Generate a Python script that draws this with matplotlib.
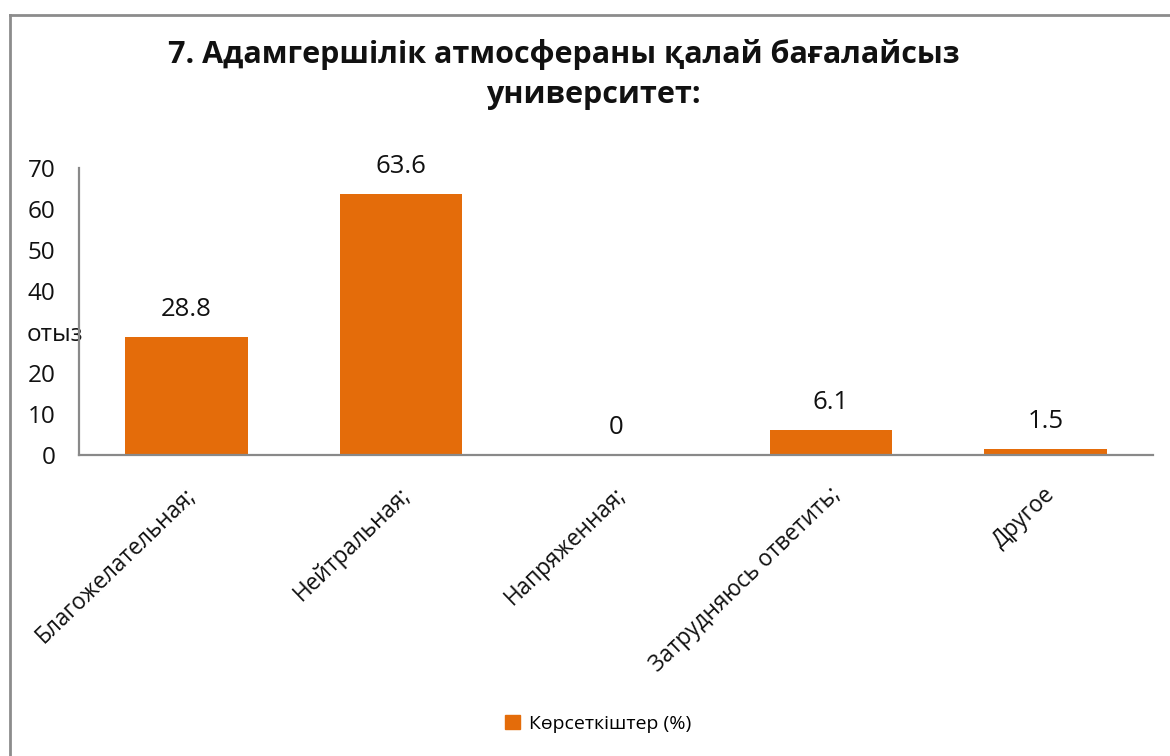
import matplotlib
matplotlib.use("Agg")
import matplotlib.pyplot as plt
from matplotlib.lines import Line2D
from matplotlib.patches import Patch
from matplotlib.transforms import ScaledTranslation

plt.rcParams['font.family'] = ['Open Sans', 'DejaVu Sans']

categories = ['Благожелательная;', 'Нейтральная;', 'Напряженная;', 'Затрудняюсь ответить;', 'Другое']
values = [28.8, 63.6, 0, 6.1, 1.5]
value_labels = ['28.8', '63.6', '0', '6.1', '1.5']
yticks = [0, 10, 20, 30, 40, 50, 60, 70]
ytick_labels = ['0', '10', '20', 'отыз', '40', '50', '60', '70']
title_line1 = '7. Адамгершілік атмосфераны қалай бағалайсыз'
title_line2 = 'университет:'
series_name = 'Көрсеткіштер (%)'

bar_color = '#E46C0A'
axis_color = '#898989'
text_color = '#111111'

W, H = 1170, 756
fig = plt.figure(figsize=(W / 100, H / 100), dpi=100)
ax = fig.add_axes([79 / W, 1 - 455 / H, (1153 - 79) / W, (455 - 168) / H])

x = list(range(len(categories)))
ax.bar(x, values, width=0.57, color=bar_color, zorder=2)
ax.set_xlim(-0.5, len(categories) - 0.5)
ax.set_ylim(0, 70)

for xi, v, lab in zip(x, values, value_labels):
    ax.annotate(lab, (xi, v), xytext=(0, 20), textcoords='offset points',
                ha='center', va='center', fontsize=18.5, color=text_color)

for s in ['top', 'right']:
    ax.spines[s].set_visible(False)
for s in ['left', 'bottom']:
    ax.spines[s].set_color(axis_color)
    ax.spines[s].set_linewidth(1.6)

ax.set_yticks(yticks)
ax.set_yticklabels(ytick_labels, fontsize=17.5, color=text_color)
ax.tick_params(axis='y', length=0, pad=17)
for t in ax.get_yticklabels():
    if t.get_text() == 'отыз':
        t.set_ha('left')
        t.set_transform(t.get_transform() + ScaledTranslation(-29 / 100, 0, fig.dpi_scale_trans))

ax.set_xticks(x)
ax.set_xticklabels(categories, rotation=44, ha='right', va='top', rotation_mode='anchor',
                   fontsize=16.3, color=text_color)
ax.tick_params(axis='x', length=0, pad=20)
for t in ax.get_xticklabels():
    t.set_transform(t.get_transform() + ScaledTranslation(-2 / 100, 0, fig.dpi_scale_trans))

fig.text(564 / W, 1 - 55 / H, title_line1, ha='center', va='center', fontsize=22,
         fontweight='bold', color=text_color)
fig.text(593 / W, 1 - 95 / H, title_line2, ha='center', va='center', fontsize=22,
         fontweight='bold', color=text_color)

fig.legend(handles=[Patch(color=bar_color)], labels=[series_name], loc='center',
           bbox_to_anchor=(598 / W, 1 - 724 / H), frameon=False, fontsize=14,
           handlelength=0.75, handleheight=0.75, handletextpad=0.45)

# outer frame (left and top edges only)
fig.add_artist(Line2D([10 / W, 10 / W], [0, 1 - 15 / H], color='#8c8c8c', lw=2))
fig.add_artist(Line2D([10 / W, 1], [1 - 15 / H, 1 - 15 / H], color='#8c8c8c', lw=2))

fig.savefig('out.png', dpi=100)
